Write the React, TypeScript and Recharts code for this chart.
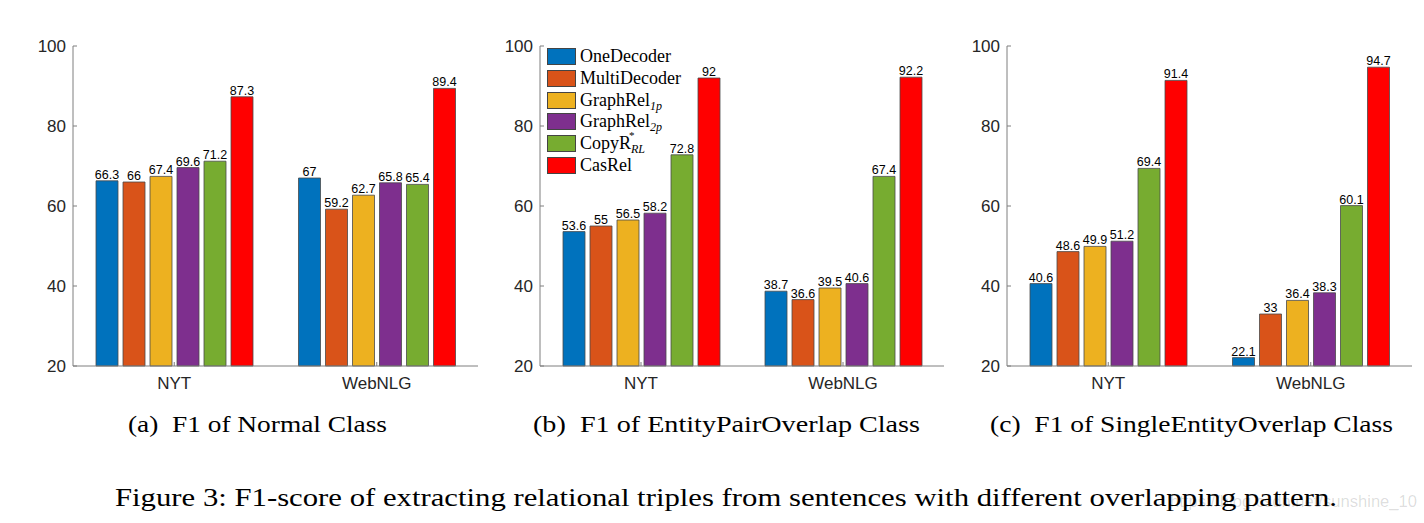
import { BarChart, Bar, XAxis, YAxis, LabelList, Legend } from "recharts";

const categories = ["NYT", "WebNLG"];
const seriesKeys = ["one", "multi", "gr1", "gr2", "copy", "cas"];
const seriesNames = ["OneDecoder", "MultiDecoder", "GraphRel", "GraphRel", "CopyR", "CasRel"];
const seriesSubs = ["", "", "1p", "2p", "RL", ""];
const seriesSups = ["", "", "", "", "*", ""];
const colors = ["#0072BD", "#D95319", "#EDB120", "#7E2F8E", "#77AC30", "#FF0000"];
const yTicks = [20, 40, 60, 80, 100];

// (a) Normal
const normalNYT = [66.3, 66, 67.4, 69.6, 71.2, 87.3];
const normalWebNLG = [67, 59.2, 62.7, 65.8, 65.4, 89.4];
// (b) EntityPairOverlap
const epoNYT = [53.6, 55, 56.5, 58.2, 72.8, 92];
const epoWebNLG = [38.7, 36.6, 39.5, 40.6, 67.4, 92.2];
// (c) SingleEntityOverlap
const seoNYT = [40.6, 48.6, 49.9, 51.2, 69.4, 91.4];
const seoWebNLG = [22.1, 33, 36.4, 38.3, 60.1, 94.7];

const captions = [
  "(a)\u00a0\u00a0F1 of Normal Class",
  "(b)\u00a0\u00a0F1 of EntityPairOverlap Class",
  "(c)\u00a0\u00a0F1 of SingleEntityOverlap Class",
];
const figureCaption =
  "Figure 3: F1-score of extracting relational triples from sentences with different overlapping pattern.";
const watermark = "https://blog.csdn.net/sunshine_10";

const toRows = (groups: number[][]) =>
  categories.map((cat, ci) => {
    const row: Record<string, string | number> = { cat };
    seriesKeys.forEach((k, si) => (row[k] = groups[ci][si]));
    return row;
  });

const sans = '"Liberation Sans", Arial, Helvetica, sans-serif';
const serif = '"Liberation Serif", "Times New Roman", serif';
const axisGray = "#7f7f7f";

function LegendBox() {
  return (
    <div style={{ fontFamily: serif, fontSize: 18, color: "#000" }}>
      {seriesNames.map((name, i) => (
        <div key={name + i} style={{ display: "flex", alignItems: "center", height: 21.7 }}>
          <span
            style={{
              display: "inline-block",
              width: 27,
              height: 15,
              background: colors[i],
              border: "1px solid #444",
              marginRight: 4,
            }}
          />
          <span style={{ whiteSpace: "nowrap", position: "relative" }}>
            {name}
            {seriesSubs[i] ? (
              <span style={{ fontSize: 12, fontStyle: "italic", position: "relative", top: 4 }}>
                {seriesSubs[i]}
              </span>
            ) : null}
            {seriesSups[i] ? (
              <span
                style={{
                  fontSize: 11,
                  position: "absolute",
                  left: 49,
                  top: -4,
                }}
              >
                {seriesSups[i]}
              </span>
            ) : null}
          </span>
        </div>
      ))}
    </div>
  );
}

function Panel({
  data,
  left,
  width,
  ml,
  mr,
  legend,
}: {
  data: Record<string, string | number>[];
  left: number;
  width: number;
  ml: number;
  mr: number;
  legend?: boolean;
}) {
  return (
    <div style={{ position: "absolute", left, top: 0 }}>
      <BarChart
        width={width}
        height={400}
        data={data}
        margin={{ top: 46, right: mr, left: ml, bottom: 4 }}
        barSize={22}
        barGap={5}
      >
        <XAxis
          dataKey="cat"
          height={30}
          tickSize={-4}
          tickMargin={15}
          stroke={axisGray}
          tick={{ fill: "#262626", fontSize: 17, fontFamily: sans }}
        />
        <YAxis
          width={40}
          domain={[20, 100]}
          ticks={yTicks}
          interval={0}
          tickSize={-4}
          tickMargin={11}
          stroke={axisGray}
          tick={{ fill: "#262626", fontSize: 17, fontFamily: sans }}
        />
        {legend ? (
          <Legend
            layout="horizontal"
            align="center"
            verticalAlign="middle"
            content={() => <LegendBox />}
            wrapperStyle={{ left: 77, top: 46, width: "auto", height: "auto" }}
          />
        ) : null}
        {seriesKeys.map((k, i) => (
          <Bar
            key={k}
            dataKey={k}
            name={seriesNames[i]}
            fill={colors[i]}
            stroke="#4a4a4a"
            strokeWidth={0.8}
            isAnimationActive={false}
          >
            <LabelList
              dataKey={k}
              position="top"
              offset={2}
              fill="#000"
              fontSize={12.5}
              fontFamily={sans}
            />
          </Bar>
        ))}
      </BarChart>
    </div>
  );
}

export default function App() {
  const captionPos = [
    { x: 128, w: 259 },
    { x: 533, w: 387 },
    { x: 990, w: 403 },
  ];
  return (
    <div
      style={{
        position: "absolute",
        left: 0,
        top: 0,
        width: 1424,
        height: 523,
        background: "#fff",
        overflow: "hidden",
      }}
    >
      <Panel data={toRows([normalNYT, normalWebNLG])} left={0} width={490} ml={33} mr={12} />
      <Panel data={toRows([epoNYT, epoWebNLG])} left={470} width={490} ml={30} mr={16} legend />
      <Panel data={toRows([seoNYT, seoWebNLG])} left={940} width={484} ml={27} mr={12} />
      <svg
        width={1424}
        height={523}
        style={{ position: "absolute", left: 0, top: 0, pointerEvents: "none" }}
      >
        {captions.map((c, i) => (
          <text
            key={c}
            x={captionPos[i].x}
            y={432}
            textLength={captionPos[i].w}
            lengthAdjust="spacingAndGlyphs"
            fontFamily={serif}
            fontSize={23}
            fill="#000"
          >
            {c}
          </text>
        ))}
        <text
          x={115}
          y={506}
          textLength={1222}
          lengthAdjust="spacingAndGlyphs"
          fontFamily={serif}
          fontSize={25}
          fill="#000"
        >
          {figureCaption}
        </text>
        <text
          x={1170}
          y={507}
          textLength={247}
          lengthAdjust="spacingAndGlyphs"
          fontFamily={sans}
          fontSize={17}
          fill="#000"
          fillOpacity={0.14}
        >
          {watermark}
        </text>
      </svg>
    </div>
  );
}
